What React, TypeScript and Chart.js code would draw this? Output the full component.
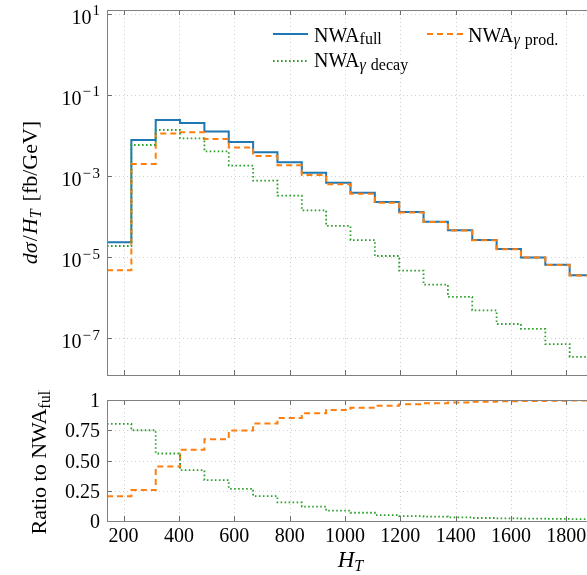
import React, { useEffect, useRef } from "react";
import { Chart, registerables } from "chart.js";

Chart.register(...registerables);

// ---------- data ----------
const binEdges = [140, 228, 316, 404, 492, 580, 668, 756, 844, 932, 1020, 1108, 1196, 1284, 1372, 1460, 1548, 1636, 1724, 1812, 1900];
const nwaFull = [2.33e-5, 7.8e-3, 2.41e-2, 2.04e-2, 1.25e-2, 6.9e-3, 3.86e-3, 2.19e-3, 1.21e-3, 6.87e-4, 3.89e-4, 2.29e-4, 1.3e-4, 7.5e-5, 4.6e-5, 2.65e-5, 1.59e-5, 9.9e-6, 6.5e-6, 3.57e-6];
const nwaProd = [4.8e-6, 2.0e-3, 1.13e-2, 1.2e-2, 8.2e-3, 5.1e-3, 3.13e-3, 1.84e-3, 1.06e-3, 6.3e-4, 3.66e-4, 2.2e-4, 1.26e-4, 7.35e-5, 4.53e-5, 2.61e-5, 1.57e-5, 9.8e-6, 6.45e-6, 3.55e-6];
const nwaDecay = [1.89e-5, 5.85e-3, 1.37e-2, 8.55e-3, 4.08e-3, 1.81e-3, 7.7e-4, 3.29e-4, 1.43e-4, 5.9e-5, 2.65e-5, 1.07e-5, 4.65e-6, 2.1e-6, 1.05e-6, 4.9e-7, 2.25e-7, 1.7e-7, 7.2e-8, 3.5e-8];
const ratioProd = [0.205, 0.256, 0.45, 0.588, 0.676, 0.748, 0.805, 0.852, 0.89, 0.918, 0.935, 0.952, 0.965, 0.974, 0.98, 0.985, 0.989, 0.992, 0.994, 0.996];
const ratioDecay = [0.802, 0.75, 0.558, 0.42, 0.338, 0.266, 0.206, 0.154, 0.118, 0.085, 0.068, 0.049, 0.041, 0.036, 0.03, 0.025, 0.022, 0.02, 0.017, 0.015];
const xTicks = [200, 400, 600, 800, 1000, 1200, 1400, 1600, 1800];
const yLogExponents = [1, -1, -3, -5, -7];
const ratioTicks = [0, 0.25, 0.5, 0.75, 1];
const ratioTickLabels = ["0", "0.25", "0.50", "0.75", "1"];

const COL_FULL = "#1f77b4";
const COL_PROD = "#ff7f0e";
const COL_DECAY = "#2ca02c";

const SERIF = '"Liberation Serif", "DejaVu Serif", serif';
const f = (size: number, italic = false) => `${italic ? "italic " : ""}${size}px ${SERIF}`;

type Run = { t: string; font: string; dy?: number; gap?: number };

function runsWidth(ctx: CanvasRenderingContext2D, runs: Run[]) {
  let w = 0;
  for (const r of runs) {
    ctx.font = r.font;
    w += ctx.measureText(r.t).width + (r.gap || 0);
  }
  return w;
}

function drawRuns(ctx: CanvasRenderingContext2D, runs: Run[], x: number, y: number, align: "left" | "center" | "right") {
  const w = runsWidth(ctx, runs);
  let cx = align === "left" ? x : align === "center" ? x - w / 2 : x - w;
  ctx.textAlign = "left";
  ctx.textBaseline = "alphabetic";
  for (const r of runs) {
    ctx.font = r.font;
    ctx.fillText(r.t, cx, y + (r.dy || 0));
    cx += ctx.measureText(r.t).width + (r.gap || 0);
  }
}

function stepPoints(vals: number[]) {
  const pts = vals.map((v, i) => ({ x: binEdges[i], y: v }));
  pts.push({ x: binEdges[binEdges.length - 1], y: vals[vals.length - 1] });
  return pts;
}

const px = (v: number) => Math.round(v) + 0.5;

function drawGridAndFrame(chart: any, yTickVals: number[], gridYVals: number[], phase: "grid" | "frame") {
  const ctx: CanvasRenderingContext2D = chart.ctx;
  const { left, right, top, bottom } = chart.chartArea;
  const xs = chart.scales.x;
  const ys = chart.scales.y;
  ctx.save();
  if (phase === "grid") {
    ctx.strokeStyle = "#cfcfcf";
    ctx.lineWidth = 1;
    ctx.setLineDash([1, 3]);
    for (const v of xTicks) {
      const x = px(xs.getPixelForValue(v));
      ctx.beginPath();
      ctx.moveTo(x, top);
      ctx.lineTo(x, bottom);
      ctx.stroke();
    }
    for (const v of gridYVals) {
      const y = px(ys.getPixelForValue(v));
      ctx.beginPath();
      ctx.moveTo(left, y);
      ctx.lineTo(right, y);
      ctx.stroke();
    }
  } else {
    ctx.setLineDash([]);
    ctx.strokeStyle = "#6e6e6e";
    ctx.lineWidth = 1;
    const T = 5;
    for (const v of xTicks) {
      const x = px(xs.getPixelForValue(v));
      ctx.beginPath();
      ctx.moveTo(x, bottom);
      ctx.lineTo(x, bottom - T);
      ctx.moveTo(x, top);
      ctx.lineTo(x, top + T);
      ctx.stroke();
    }
    for (const v of yTickVals) {
      const y = px(ys.getPixelForValue(v));
      ctx.beginPath();
      ctx.moveTo(left, y);
      ctx.lineTo(left + T, y);
      ctx.moveTo(right, y);
      ctx.lineTo(right - T, y);
      ctx.stroke();
    }
    ctx.strokeStyle = "#808080";
    ctx.strokeRect(px(left), px(top), Math.round(right - left), Math.round(bottom - top));
  }
  ctx.restore();
}

const topPlugin = {
  id: "topDecor",
  beforeDatasetsDraw(chart: any) {
    const vals = yLogExponents.map((e) => Math.pow(10, e));
    drawGridAndFrame(chart, vals, vals, "grid");
  },
  afterDraw(chart: any) {
    const ctx: CanvasRenderingContext2D = chart.ctx;
    const ys = chart.scales.y;
    const { top, bottom } = chart.chartArea;
    const vals = yLogExponents.map((e) => Math.pow(10, e));
    drawGridAndFrame(chart, vals, vals, "frame");
    ctx.save();
    ctx.fillStyle = "#000";
    // y tick labels 10^e
    for (const e of yLogExponents) {
      const y = ys.getPixelForValue(Math.pow(10, e));
      const runs: Run[] = [{ t: "10", font: f(20), gap: 1 }];
      if (e < 0) {
        runs.push({ t: "\u2212", font: f(15), dy: -8.5, gap: 1.5 });
        runs.push({ t: String(-e), font: f(15), dy: -8.5 });
      } else {
        runs.push({ t: String(e), font: f(15), dy: -8.5 });
      }
      drawRuns(ctx, runs, 100, y + 10, "right");
    }
    // y title (rotated)
    ctx.translate(37, (top + bottom) / 2);
    ctx.rotate(-Math.PI / 2);
    drawRuns(
      ctx,
      [
        { t: "d\u03C3", font: f(22, true), gap: 1 },
        { t: "/", font: f(22), gap: 1 },
        { t: "H", font: f(22, true) },
        { t: "T", font: f(16, true), dy: 4, gap: 8 },
        { t: "[fb/GeV]", font: f(22) },
      ],
      0,
      0,
      "center"
    );
    ctx.restore();

    // legend
    ctx.save();
    ctx.lineWidth = 2;
    const seg = (x1: number, x2: number, y: number, col: string, dash: number[]) => {
      ctx.strokeStyle = col;
      ctx.setLineDash(dash);
      ctx.beginPath();
      ctx.moveTo(x1, y);
      ctx.lineTo(x2, y);
      ctx.stroke();
    };
    seg(273, 308, 34, COL_FULL, []);
    seg(427, 463, 34, COL_PROD, [6, 4]);
    seg(273, 308, 61, COL_DECAY, [1.6, 2.4]);
    ctx.setLineDash([]);
    ctx.fillStyle = "#000";
    drawRuns(ctx, [{ t: "NWA", font: f(20) }, { t: "full", font: f(16), dy: 2.5 }], 314, 41.5, "left");
    drawRuns(
      ctx,
      [
        { t: "NWA", font: f(20) },
        { t: "\u03B3", font: f(16, true), dy: 3, gap: 5 },
        { t: "prod.", font: f(16), dy: 3 },
      ],
      468,
      41.5,
      "left"
    );
    drawRuns(
      ctx,
      [
        { t: "NWA", font: f(20) },
        { t: "\u03B3", font: f(16, true), dy: 3, gap: 5 },
        { t: "decay", font: f(16), dy: 3 },
      ],
      314,
      66.7,
      "left"
    );
    ctx.restore();
  },
};

const botPlugin = {
  id: "botDecor",
  beforeDatasetsDraw(chart: any) {
    drawGridAndFrame(chart, ratioTicks, [0.25, 0.5, 0.75], "grid");
  },
  afterDraw(chart: any) {
    const ctx: CanvasRenderingContext2D = chart.ctx;
    const xs = chart.scales.x;
    const ys = chart.scales.y;
    const { top, bottom, left, right } = chart.chartArea;
    drawGridAndFrame(chart, ratioTicks, [0.25, 0.5, 0.75], "frame");
    ctx.save();
    ctx.fillStyle = "#000";
    ctx.font = f(20);
    ctx.textBaseline = "alphabetic";
    ctx.textAlign = "right";
    ratioTicks.forEach((v, i) => {
      const y = ys.getPixelForValue(v);
      ctx.fillText(ratioTickLabels[i], 100, y + 7);
    });
    ctx.textAlign = "center";
    for (const v of xTicks) {
      ctx.fillText(String(v), xs.getPixelForValue(v), bottom + 21);
    }
    // x title
    drawRuns(
      ctx,
      [
        { t: "H", font: f(23, true) },
        { t: "T", font: f(16, true), dy: 4.5 },
      ],
      (left + right) / 2,
      bottom + 45.5,
      "center"
    );
    // y title
    ctx.translate(46, (top + bottom) / 2);
    ctx.rotate(-Math.PI / 2);
    drawRuns(
      ctx,
      [
        { t: "Ratio to NWA", font: f(22) },
        { t: "full", font: f(16), dy: 3.5 },
      ],
      0,
      0,
      "center"
    );
    ctx.restore();
  },
};

function lineDs(label: string, vals: number[], color: string, dash: number[], order: number, width = 2) {
  return {
    label,
    data: stepPoints(vals),
    borderColor: color,
    backgroundColor: color,
    borderWidth: width,
    borderDash: dash,
    stepped: "before" as const,
    pointRadius: 0,
    fill: false,
    order,
  };
}

export default function App() {
  const topRef = useRef<HTMLCanvasElement>(null);
  const botRef = useRef<HTMLCanvasElement>(null);

  useEffect(() => {
    const top = new Chart(topRef.current as HTMLCanvasElement, {
      type: "line",
      data: {
        datasets: [
          lineDs("NWA full", nwaFull, COL_FULL, [], 3, 2),
          lineDs("NWA γ prod.", nwaProd, COL_PROD, [6, 4], 2, 2),
          lineDs("NWA γ decay", nwaDecay, COL_DECAY, [1.6, 2.4], 1, 1.8),
        ],
      } as any,
      options: {
        responsive: false,
        animation: false,
        events: [],
        layout: { padding: { left: 107, right: 26, top: 10, bottom: 15 } },
        scales: {
          x: { type: "linear", min: 140, max: 1900, display: false },
          y: { type: "logarithmic", min: Math.pow(10, -7.905), max: Math.pow(10, 1.096), display: false },
        },
        plugins: { legend: { display: false }, tooltip: { enabled: false } },
      } as any,
      plugins: [topPlugin],
    });
    const bot = new Chart(botRef.current as HTMLCanvasElement, {
      type: "line",
      data: {
        datasets: [
          lineDs("NWA γ prod.", ratioProd, COL_PROD, [6, 4], 2, 2),
          lineDs("NWA γ decay", ratioDecay, COL_DECAY, [1.6, 2.4], 1, 1.8),
        ],
      } as any,
      options: {
        responsive: false,
        animation: false,
        events: [],
        layout: { padding: { left: 107, right: 26, top: 10, bottom: 54 } },
        scales: {
          x: { type: "linear", min: 140, max: 1900, display: false },
          y: { type: "linear", min: 0, max: 1, display: false },
        },
        plugins: { legend: { display: false }, tooltip: { enabled: false } },
      } as any,
      plugins: [botPlugin],
    });
    return () => {
      top.destroy();
      bot.destroy();
    };
  }, []);

  return (
    <div style={{ position: "fixed", left: 0, top: 0, width: 587, height: 575, overflow: "hidden", background: "#fff" }}>
      <canvas ref={topRef} width={620} height={390} style={{ position: "absolute", left: 0, top: 0 }} />
      <canvas ref={botRef} width={620} height={185} style={{ position: "absolute", left: 0, top: 390 }} />
    </div>
  );
}
